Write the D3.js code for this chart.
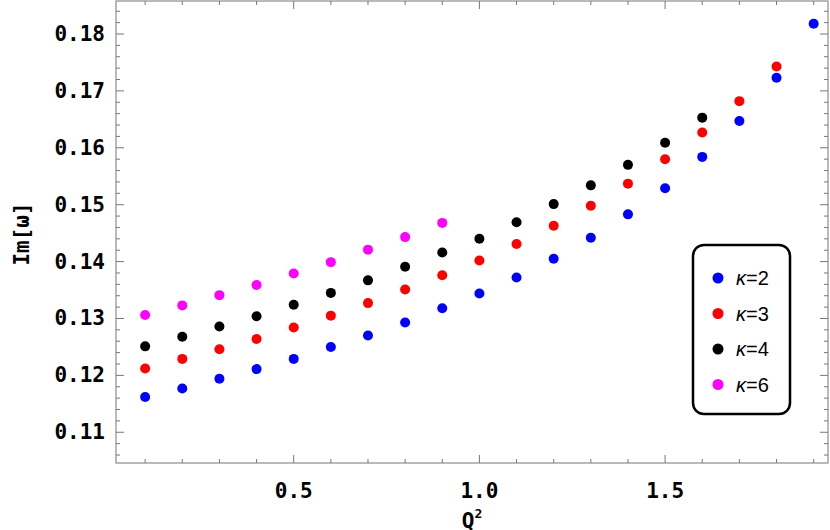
<!DOCTYPE html>
<html>
<head>
<meta charset="utf-8">
<script src="https://cdn.jsdelivr.net/npm/d3@7"></script>
<style>
  body { margin: 0; background: #fff; }
  .tick-label { font-family: "DejaVu Sans Mono", monospace; font-weight: bold; font-size: 21px; }
</style>
</head>
<body>
<svg id="chart" width="830" height="530"></svg>
<script>
"use strict";

const q2 = [0.1, 0.2, 0.3, 0.4, 0.5, 0.6, 0.7, 0.8, 0.9, 1.0, 1.1, 1.2, 1.3, 1.4, 1.5, 1.6, 1.7, 1.8, 1.9];
const kappa2 = [0.1162, 0.1177, 0.1194, 0.1211, 0.1229, 0.1250, 0.1270, 0.1293, 0.1318, 0.1344,
                0.1372, 0.1405, 0.1442, 0.1483, 0.1529, 0.1584, 0.1647, 0.1723, 0.1818];
const kappa3 = [0.1212, 0.1229, 0.1246, 0.1264, 0.1284, 0.1305, 0.1327, 0.1351, 0.1376, 0.1402,
                0.1431, 0.1463, 0.1498, 0.1537, 0.1580, 0.1627, 0.1682, 0.1743];
const kappa4 = [0.1251, 0.1268, 0.1286, 0.1304, 0.1324, 0.1345, 0.1367, 0.1391, 0.1416, 0.1440,
                0.1469, 0.1501, 0.1534, 0.1570, 0.1609, 0.1653];
const kappa6 = [0.1306, 0.1323, 0.1341, 0.1359, 0.1379, 0.1399, 0.1421, 0.1443, 0.1468];

const series = [
  { name: "2", values: kappa2, color: "#0000ff" },
  { name: "3", values: kappa3, color: "#ff0000" },
  { name: "4", values: kappa4, color: "#000000" },
  { name: "6", values: kappa6, color: "#ff00ff" },
];
const xTickLabels = [0.5, 1.0, 1.5];
const yTickLabels = [0.11, 0.12, 0.13, 0.14, 0.15, 0.16, 0.17, 0.18];

const frame = { left: 116, right: 828, top: 1, bottom: 463 };
const x = d3.scaleLinear().domain([0.0215, 1.9386]).range([frame.left, frame.right]);
const y = d3.scaleLinear().domain([0.1046, 0.1858]).range([frame.bottom, frame.top]);

const svg = d3.select("#chart");
const axisColor = "#777";

// frame
svg.append("rect")
    .attr("x", frame.left).attr("y", frame.top)
    .attr("width", frame.right - frame.left).attr("height", frame.bottom - frame.top)
    .attr("fill", "none").attr("stroke", axisColor).attr("stroke-width", 1);

// ticks on all four sides, pointing inward
const xMinor = d3.range(0.1, 1.95, 0.1).map(v => +v.toFixed(2));
const yMinor = d3.range(0.106, 0.186, 0.002).map(v => +v.toFixed(3));
const isMajorX = v => Math.abs(v * 2 - Math.round(v * 2)) < 1e-6;
const isMajorY = v => Math.abs(v * 100 - Math.round(v * 100)) < 1e-6;

const ticks = svg.append("g").attr("stroke", axisColor).attr("stroke-width", 1);
xMinor.forEach(v => {
  const len = isMajorX(v) ? 8 : 4;
  ticks.append("line").attr("x1", x(v)).attr("x2", x(v)).attr("y1", frame.bottom).attr("y2", frame.bottom - len);
  ticks.append("line").attr("x1", x(v)).attr("x2", x(v)).attr("y1", frame.top).attr("y2", frame.top + len);
});
yMinor.forEach(v => {
  const len = isMajorY(v) ? 8 : 4;
  ticks.append("line").attr("y1", y(v)).attr("y2", y(v)).attr("x1", frame.left).attr("x2", frame.left + len);
  ticks.append("line").attr("y1", y(v)).attr("y2", y(v)).attr("x1", frame.right).attr("x2", frame.right - len);
});

// tick labels
svg.append("g").selectAll("text").data(xTickLabels).join("text")
    .attr("class", "tick-label")
    .attr("x", d => x(d)).attr("y", 498)
    .attr("text-anchor", "middle")
    .text(d => d.toFixed(1));

svg.append("g").selectAll("text").data(yTickLabels).join("text")
    .attr("class", "tick-label")
    .attr("x", 105).attr("y", d => y(d) + 7)
    .attr("text-anchor", "end")
    .text(d => d.toFixed(2));

// axis titles
const xTitle = svg.append("text").attr("class", "tick-label")
    .attr("x", 472).attr("y", 528).attr("text-anchor", "middle");
xTitle.append("tspan").text("Q");
xTitle.append("tspan").attr("dy", -10).attr("font-size", 13).text("2");

svg.append("text").attr("class", "tick-label")
    .attr("transform", "translate(29,234) rotate(-90)")
    .attr("text-anchor", "middle")
    .text("Im[ω]");

// points
series.forEach(s => {
  svg.append("g").selectAll("circle").data(s.values).join("circle")
      .attr("cx", (d, i) => x(q2[i]))
      .attr("cy", d => y(d))
      .attr("r", 5)
      .attr("fill", s.color);
});

// legend
const legend = svg.append("g");
legend.append("rect")
    .attr("x", 693).attr("y", 245).attr("width", 97).attr("height", 169)
    .attr("rx", 11).attr("fill", "#fff").attr("stroke", "#000").attr("stroke-width", 2.5);
series.forEach((s, i) => {
  const cy = 278 + i * 35.5;
  legend.append("circle").attr("cx", 718).attr("cy", cy).attr("r", 5.5).attr("fill", s.color);
  const t = legend.append("text")
      .attr("x", 736).attr("y", cy + 7)
      .attr("font-family", "Liberation Sans, Arial, sans-serif").attr("font-size", 20);
  t.append("tspan").attr("font-style", "italic").text("κ");
  t.append("tspan").text("=" + s.name);
});
</script>
</body>
</html>
